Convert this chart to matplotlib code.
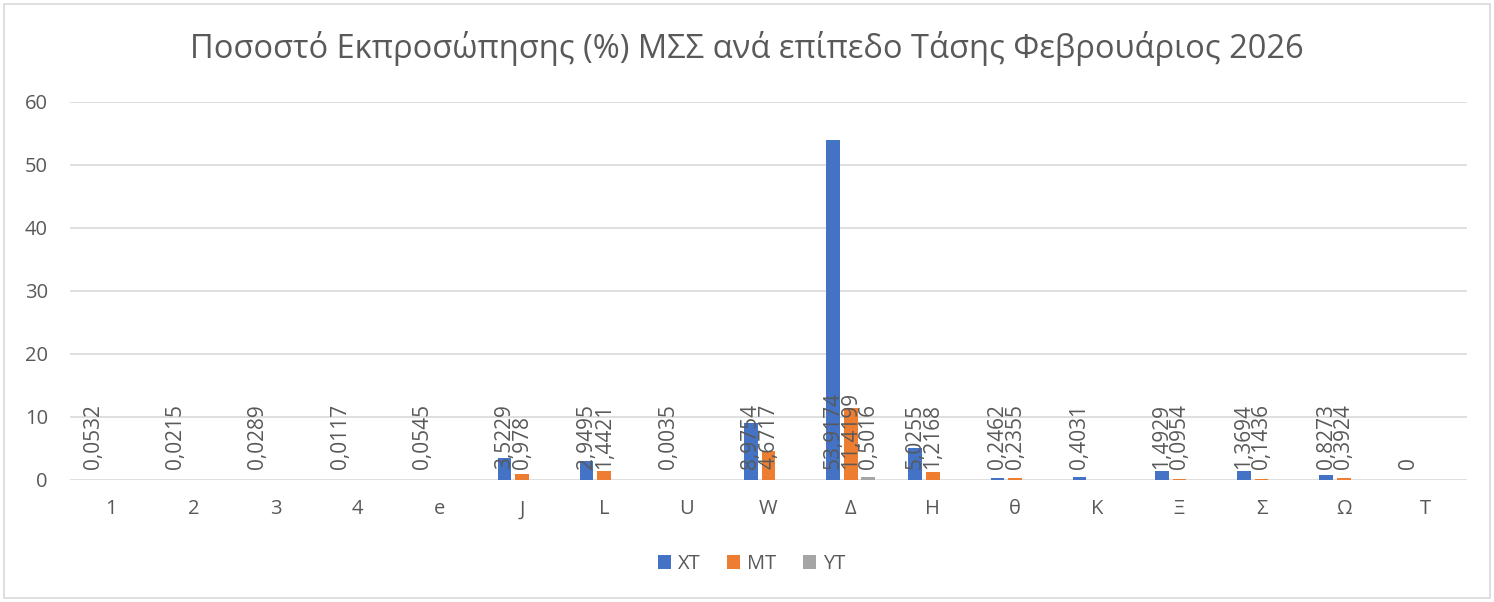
import numpy as np
import matplotlib.pyplot as plt
from matplotlib.patches import Rectangle

plt.rcParams['font.family'] = ['Open Sans', 'DejaVu Sans']

categories = ['1', '2', '3', '4', 'e', 'J', 'L', 'U', 'W', 'Δ', 'Η', 'θ', 'Κ', 'Ξ', 'Σ', 'Ω', 'Τ']
xt = [0.0532, 0.0215, 0.0289, 0.0117, 0.0545, 3.5229, 2.9495, 0.0035, 8.9754,
      53.9174, 5.0255, 0.2462, 0.4031, 1.4929, 1.3694, 0.8273, 0]
mt = [None, None, None, None, None, 0.978, 1.4421, None, 4.6717,
      11.4199, 1.2168, 0.2355, None, 0.0954, 0.1436, 0.3924, None]
yt = [None, None, None, None, None, None, None, None, None,
      0.5016, None, None, None, None, None, None, None]
series = [('ΧΤ', xt, '#4472C4'), ('ΜΤ', mt, '#ED7D31'), ('ΥΤ', yt, '#A5A5A5')]

txt = '#595959'
fig = plt.figure(figsize=(14.94, 6.02), dpi=100)
fig.patches.append(Rectangle((0.003, 0.006), 0.994, 0.988, transform=fig.transFigure,
                             fill=False, edgecolor='#D9D9D9', linewidth=1.2))
ax = fig.add_axes([0.0469, 0.2027, 0.935, 0.6279])

x = np.arange(len(categories))
w = 0.167
step = 0.214
for k, (name, vals, col) in enumerate(series):
    pos = x + (k - 1) * step
    h = [np.nan if v is None else v for v in vals]
    ax.bar(pos, h, width=w, color=col, label=name, zorder=2)
    for p, v in zip(pos, vals):
        if v is None:
            continue
        s = ('%g' % v).replace('.', ',')
        ax.annotate(s, (p, 0), xytext=(0, 8), textcoords='offset points',
                    rotation=90, ha='center', va='bottom', fontsize=15, color=txt, zorder=3)

ax.set_ylim(0, 60)
ax.set_xlim(-0.5, len(categories) - 0.5)
ax.set_yticks(range(0, 61, 10))
ax.set_xticks(x)
ax.set_xticklabels(categories)
ax.grid(axis='y', color='#D9D9D9', linewidth=1.2, zorder=0)
ax.set_axisbelow(True)
for sp in ax.spines.values():
    sp.set_visible(False)
ax.tick_params(length=0, labelsize=14.5, colors=txt)
ax.tick_params(axis='y', pad=16)
ax.tick_params(axis='x', pad=14)

fig.text(0.5, 0.92, 'Ποσοστό Εκπροσώπησης (%) ΜΣΣ ανά επίπεδο Τάσης Φεβρουάριος 2026',
         ha='center', va='center', fontsize=23.5, color=txt)
fig.legend(loc='center', bbox_to_anchor=(0.503, 0.063), ncol=3, frameon=False,
           fontsize=14.5, labelcolor=txt, handlelength=0.65, handleheight=0.65,
           handletextpad=0.35, columnspacing=1.3)

fig.savefig('out.png', dpi=100)
